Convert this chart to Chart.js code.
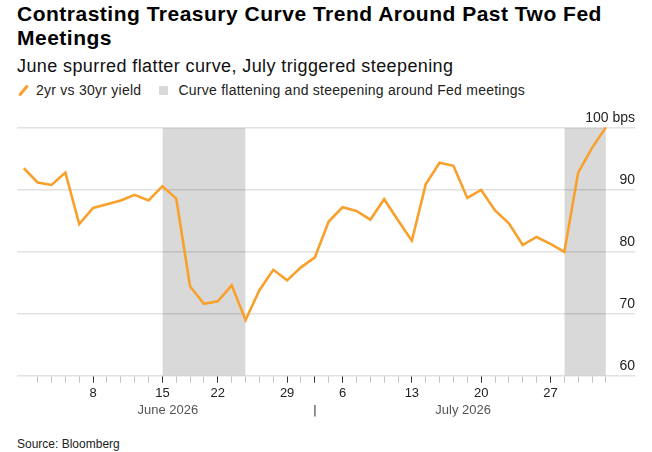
<!DOCTYPE html>
<html>
<head>
<meta charset="utf-8">
<script src="https://cdn.jsdelivr.net/npm/chart.js@4.4.1/dist/chart.umd.min.js"></script>
<style>
  html, body { margin: 0; padding: 0; background: #fff; }
  body { width: 652px; height: 452px; position: relative; overflow: hidden; font-family: 'Liberation Sans', Arial, sans-serif; color: #000; }
  #title { position: absolute; left: 17px; top: 2px; width: 615px; font-size: 21px; font-weight: bold; line-height: 24px; letter-spacing: 0.5px; }
  #subtitle { position: absolute; left: 17px; top: 55px; font-size: 18px; line-height: 22px; color: #111; letter-spacing: 0.4px; }
  #legend { position: absolute; left: 17px; top: 81px; font-size: 14px; line-height: 18px; color: #222; display: flex; align-items: center; letter-spacing: 0.25px; }
  .slash { display: inline-block; width: 3px; height: 13px; background: #f9a02c; transform: rotate(40deg); margin: 0 11px 0 5px; border-radius: 1px; }
  .box { display: inline-block; width: 9px; height: 9px; background: #d9d9d9; margin: 0 10px 0 18px; border-radius: 1px; }
  #chartBox { position: absolute; left: 0; top: 100px; }
  #source { position: absolute; left: 17px; top: 437px; font-size: 12px; line-height: 14px; color: #222; }
</style>
</head>
<body>
<div id="title">Contrasting Treasury Curve Trend Around Past Two Fed Meetings</div>
<div id="subtitle">June spurred flatter curve, July triggered steepening</div>
<div id="legend"><span class="slash"></span>2yr vs 30yr yield<span class="box"></span>Curve flattening and steepening around Fed meetings</div>
<div id="chartBox"><canvas id="chart" width="652" height="330"></canvas></div>
<div id="source">Source: Bloomberg</div>

<script>
// Trading days (no Juneteenth, no July 3)
const tradingDays = [
    '2026-06-01', '2026-06-02', '2026-06-03', '2026-06-04', '2026-06-05',
    '2026-06-08', '2026-06-09', '2026-06-10', '2026-06-11', '2026-06-12',
    '2026-06-15', '2026-06-16', '2026-06-17', '2026-06-18',
    '2026-06-22', '2026-06-23', '2026-06-24', '2026-06-25', '2026-06-26',
    '2026-06-29', '2026-06-30', '2026-07-01', '2026-07-02',
    '2026-07-06', '2026-07-07', '2026-07-08', '2026-07-09', '2026-07-10',
    '2026-07-13', '2026-07-14', '2026-07-15', '2026-07-16', '2026-07-17',
    '2026-07-20', '2026-07-21', '2026-07-22', '2026-07-23', '2026-07-24',
    '2026-07-27', '2026-07-28', '2026-07-29', '2026-07-30', '2026-07-31',
];

// 2yr vs 30yr spread, bps
const spread = [
    93.5, 91.2, 90.8, 92.8, 84.5,
    87.1, 87.7, 88.3, 89.2, 88.3,
    90.6, 88.6, 74.4, 71.6,
    72.0, 74.6, 69.0, 73.8, 77.1,
    75.4, 77.5, 79.1, 84.9,
    87.2, 86.6, 85.2, 88.5, 85.1,
    81.8, 90.9, 94.4, 93.9, 88.7,
    90.0, 86.7, 84.6, 81.1, 82.4,
    81.3, 80.0, 92.8, 96.8, 100.1,
];

// shaded periods around Fed meetings
const bandStart = ['2026-06-15', '2026-07-28'];
const bandEnd = ['2026-06-24', '2026-07-31'];

const yTicks = [60, 70, 80, 90, 100];
const monthLabels = ['June 2026', '|', 'July 2026'];
const monthTickAt = [10.4, 21, 31.7];

function dayOf(i) {
    return new Date(tradingDays[i] + 'T00:00:00');
}

function isMajor(i) {
    const d = dayOf(i);
    return d.getDay() === 1 || d.getDate() === 1;
}

function createSpreadChart() {
    const ctx = document.getElementById('chart').getContext('2d');

    const lineData = spread.map((v, i) => ({ x: i, y: v }));
    const bands = bandStart.map((s, k) => ({
        label: 'Curve flattening and steepening around Fed meetings',
        data: [
            { x: tradingDays.indexOf(s), y: 100 },
            { x: tradingDays.indexOf(bandEnd[k]), y: 100 },
        ],
        backgroundColor: 'rgba(0, 0, 0, 0.15)',
        borderWidth: 0,
        pointRadius: 0,
        fill: 'start',
    }));

    const chartData = {
        datasets: [
            {
                label: '2yr vs 30yr yield',
                data: lineData,
                borderColor: '#f9a02c',
                borderWidth: 2.6,
                pointRadius: 0,
                tension: 0,
                clip: 6,
            },
            ...bands,
        ],
    };

    const chartOptions = {
        responsive: false,
        animation: false,
        layout: {
            padding: { left: 17, right: 17, top: 28, bottom: 13.5 },
        },
        plugins: {
            legend: { display: false },
            tooltip: { enabled: false },
        },
        scales: {
            x: {
                type: 'linear',
                position: 'bottom',
                weight: 0,
                min: -0.49,
                max: 44.1,
                afterBuildTicks: (axis) => {
                    axis.ticks = tradingDays.slice(1).map((d, i) => ({ value: i + 1 }));
                },
                grid: {
                    drawOnChartArea: false,
                    drawTicks: true,
                    tickLength: 7,
                    color: (c) => (c.tick && isMajor(c.tick.value) ? '#333' : '#c4c4c4'),
                },
                border: { display: false },
                ticks: {
                    autoSkip: false,
                    maxRotation: 0,
                    padding: 3.3,
                    color: '#222',
                    font: { family: 'Liberation Sans', size: 13 },
                    callback: (value) => {
                        const d = dayOf(value);
                        return d.getDay() === 1 ? String(d.getDate()) : '';
                    },
                },
            },
            month: {
                type: 'linear',
                position: 'bottom',
                weight: 1,
                min: -0.49,
                max: 44.1,
                afterBuildTicks: (axis) => {
                    axis.ticks = monthTickAt.map((v) => ({ value: v }));
                },
                grid: { display: false, drawTicks: false },
                border: { display: false },
                ticks: {
                    autoSkip: false,
                    maxRotation: 0,
                    padding: -2,
                    color: (c) => (c.index === 1 ? '#333' : '#555'),
                    font: { family: 'Liberation Sans', size: 13 },
                    callback: (value, index) => monthLabels[index],
                },
            },
            y: {
                position: 'right',
                min: 60,
                max: 100,
                afterBuildTicks: (axis) => {
                    axis.ticks = yTicks.map((v) => ({ value: v }));
                },
                grid: {
                    color: '#e2e2e2',
                    lineWidth: 1.5,
                    drawTicks: false,
                },
                border: { display: false },
                ticks: {
                    mirror: true,
                    padding: 0,
                    labelOffset: -10,
                    color: '#222',
                    font: { family: 'Liberation Sans', size: 14 },
                    callback: (value) => (value === 100 ? '100 bps' : String(value)),
                },
            },
        },
    };

    new Chart(ctx, {
        type: 'line',
        data: chartData,
        options: chartOptions,
    });
}

createSpreadChart();
</script>
</body>
</html>
